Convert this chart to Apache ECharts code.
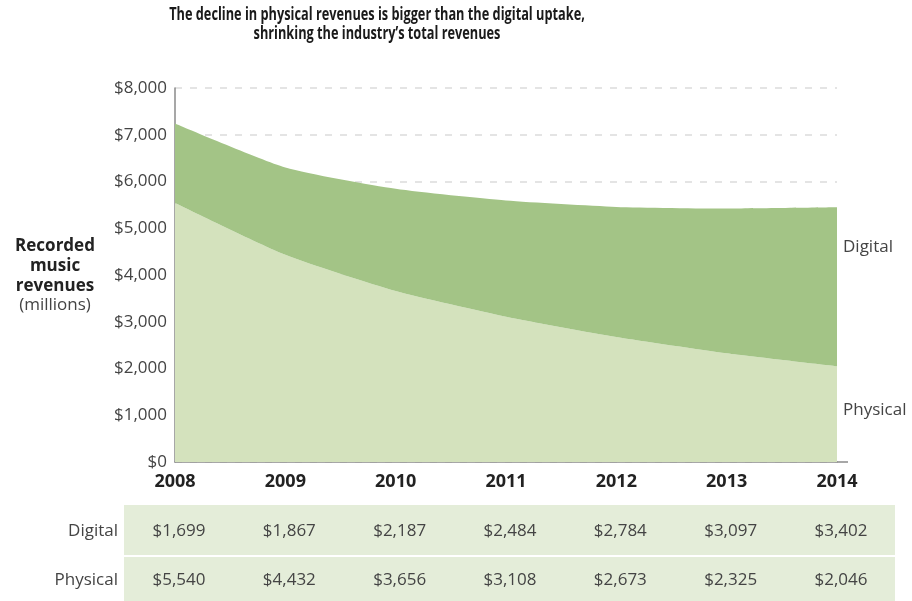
<!DOCTYPE html>
<html>
<head>
<meta charset="utf-8">
<script src="https://cdn.jsdelivr.net/npm/echarts@6/dist/echarts.min.js"></script>
<style>
  html, body { margin: 0; padding: 0; background: #fff; }
  #chart { width: 912px; height: 601px; }
</style>
</head>
<body>
<div id="chart"></div>
<script>
// Recorded music revenues, US$ millions
const years = ['2008', '2009', '2010', '2011', '2012', '2013', '2014'];
const digital = [1699, 1867, 2187, 2484, 2784, 3097, 3402];
const physical = [5540, 4432, 3656, 3108, 2673, 2325, 2046];
const yTicks = [0, 1000, 2000, 3000, 4000, 5000, 6000, 7000, 8000];

const FONT = '"Open Sans", "Noto Sans", sans-serif';
const COL_DIGITAL = '#a3c486';
const COL_PHYSICAL = '#d4e2bd';
const COL_TABLE = '#e4edd9';
const COL_AXIS = '#8a8a8a';

const money = v => '$' + v.toLocaleString('en-US');

const chart = echarts.init(document.getElementById('chart'));

chart.setOption({
  animation: false,
  backgroundColor: '#ffffff',
  grid: { left: 175, right: 75, top: 88, bottom: 139, containLabel: false },
  xAxis: {
    type: 'category',
    data: years,
    boundaryGap: false,
    axisLine: { show: true, lineStyle: { color: COL_AXIS, width: 1.5 } },
    axisTick: { show: false },
    splitLine: { show: false },
    axisLabel: {
      margin: 11,
      fontFamily: FONT, fontWeight: 'bold', fontSize: 18, color: '#222'
    }
  },
  yAxis: {
    type: 'value',
    min: 0,
    max: 8000,
    interval: 1000,
    axisLine: { show: true, lineStyle: { color: COL_AXIS, width: 1.5 } },
    axisTick: { show: false },
    splitLine: { show: true, lineStyle: { color: '#dcdcdc', type: [7, 8], width: 1.5 } },
    axisLabel: {
      margin: 8,
      fontFamily: FONT, fontSize: 17, color: '#444',
      formatter: v => yTicks.indexOf(v) >= 0 ? money(v) : ''
    }
  },
  series: [
    {
      name: 'Physical',
      type: 'line',
      stack: 'total',
      smooth: 0.2,
      symbol: 'none',
      lineStyle: { width: 0 },
      areaStyle: { color: COL_PHYSICAL, opacity: 1 },
      data: physical
    },
    {
      name: 'Digital',
      type: 'line',
      stack: 'total',
      smooth: 0.2,
      symbol: 'none',
      lineStyle: { width: 0 },
      areaStyle: { color: COL_DIGITAL, opacity: 1 },
      data: digital
    }
  ]
});

// Title, axis name, side labels and the values table
const px = i => chart.convertToPixel({ xAxisIndex: 0 }, i);
const py = v => chart.convertToPixel({ yAxisIndex: 0 }, v);
const xLast = px(years.length - 1);

const graphics = [];

// condensed bold title
graphics.push({
  type: 'text', x: 377, y: 6, scaleX: 0.75, originX: 0,
  style: {
    text: 'The decline in physical revenues is bigger than the digital uptake,\nshrinking the industry\u2019s total revenues',
    fontFamily: FONT, fontWeight: 'bold', fontSize: 17, lineHeight: 19,
    fill: '#1a1a1a', align: 'center', verticalAlign: 'top'
  }
});

// x axis line runs a little past the last year
graphics.push({
  type: 'line', z: 10,
  shape: { x1: xLast, y1: py(0), x2: xLast + 11, y2: py(0) },
  style: { stroke: COL_AXIS, lineWidth: 1.5 }
});

graphics.push({
  type: 'text', x: 55, y: 236,
  style: {
    text: '{b|Recorded}\n{b|music}\n{b|revenues}\n{n|(millions)}',
    align: 'center', verticalAlign: 'top',
    rich: {
      b: { fontFamily: FONT, fontWeight: 'bold', fontSize: 17, fill: '#222', lineHeight: 20, align: 'center' },
      n: { fontFamily: FONT, fontSize: 17, fill: '#444', lineHeight: 19, align: 'center' }
    }
  }
});

graphics.push({
  type: 'text', x: xLast + 6, y: py(4600),
  style: { text: 'Digital', fontFamily: FONT, fontSize: 17, fill: '#444', verticalAlign: 'middle' }
});
graphics.push({
  type: 'text', x: xLast + 6, y: py(1100),
  style: { text: 'Physical', fontFamily: FONT, fontSize: 17, fill: '#444', verticalAlign: 'middle' }
});

// table background rows
graphics.push({ type: 'rect', shape: { x: 124, y: 505, width: 771, height: 50 }, style: { fill: COL_TABLE } });
graphics.push({ type: 'rect', shape: { x: 124, y: 557, width: 771, height: 50 }, style: { fill: COL_TABLE } });

const rows = [
  { label: 'Digital', values: digital, cy: 531 },
  { label: 'Physical', values: physical, cy: 580 }
];
rows.forEach(r => {
  graphics.push({
    type: 'text', x: 118, y: r.cy,
    style: { text: r.label, fontFamily: FONT, fontSize: 17, fill: '#444', align: 'right', verticalAlign: 'middle' }
  });
  r.values.forEach((v, i) => {
    graphics.push({
      type: 'text', x: px(i) + 4, y: r.cy,
      style: { text: money(v), fontFamily: FONT, fontSize: 17, fill: '#444', align: 'center', verticalAlign: 'middle' }
    });
  });
});

chart.setOption({ graphic: graphics });
</script>
</body>
</html>
